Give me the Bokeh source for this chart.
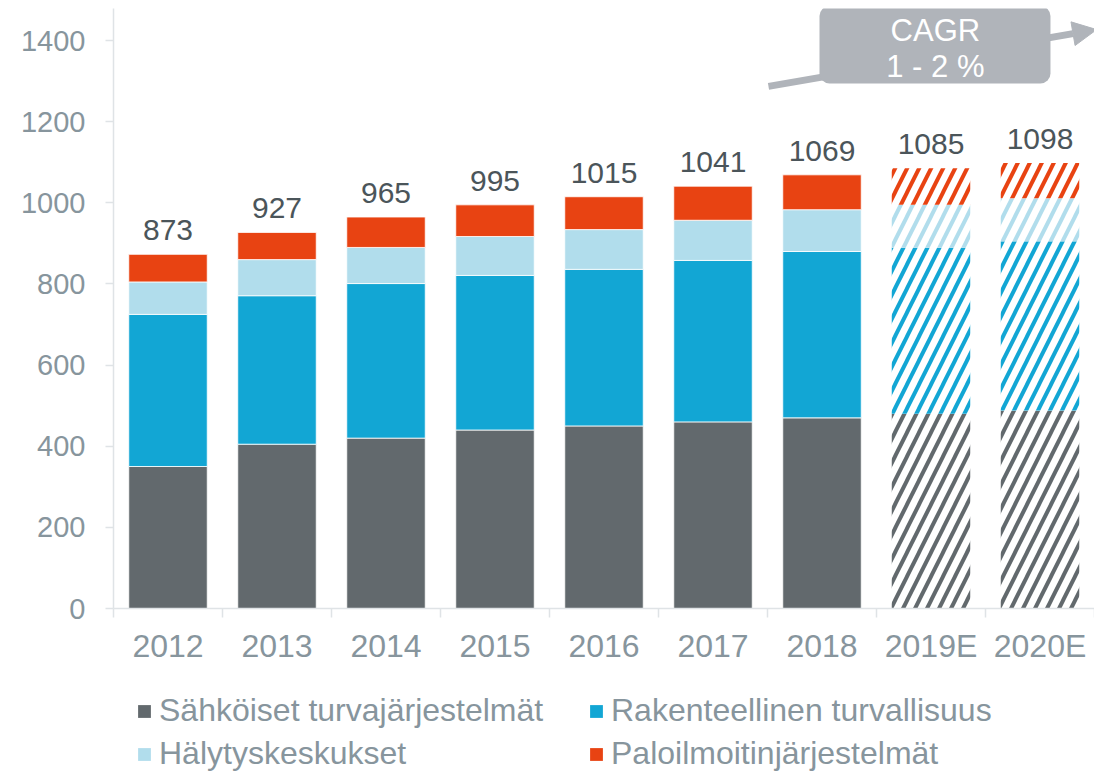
import numpy as np
from bokeh.plotting import figure
from bokeh.layouts import column
from bokeh.models import (ColumnDataSource, FixedTicker, Legend, LegendItem,
                          BoxAnnotation, Label, Arrow, NormalHead)
from bokeh.embed import file_html
from bokeh.resources import INLINE
from bokeh.core.properties import value

# ---------------- data ----------------
years = ["2012", "2013", "2014", "2015", "2016", "2017", "2018", "2019E", "2020E"]
forecast = [False, False, False, False, False, False, False, True, True]
sahkoiset = [350, 405, 420, 440, 450, 460, 470, 480, 488]
rakenteellinen = [375, 366, 381, 381, 386, 398, 410, 410, 417]
halytys = [80, 89, 89, 96, 98, 99, 103, 105, 106]
paloilmoitin = [68, 67, 75, 78, 81, 84, 86, 90, 87]
totals = [873, 927, 965, 995, 1015, 1041, 1069, 1085, 1098]
series_names = ["Sähköiset turvajärjestelmät", "Rakenteellinen turvallisuus",
                "Hälytyskeskukset", "Paloilmoitinjärjestelmät"]
series_colors = ["#62696d", "#12a6d4", "#b1ddec", "#e84312"]
y_ticks = [0, 200, 400, 600, 800, 1000, 1200, 1400]

FONT = "Liberation Sans"
AXIS_TEXT = "#87959d"

p = figure(width=1094, height=670, output_backend="svg", toolbar_location=None,
           x_range=(-0.5, 8.5), y_range=(0, 1479),
           min_border_left=113, min_border_right=0, min_border_top=8,
           min_border_bottom=62)
p.outline_line_color = None
p.grid.visible = False
p.background_fill_color = "white"
p.border_fill_color = "white"

x = np.arange(len(years))
series = [sahkoiset, rakenteellinen, halytys, paloilmoitin]
cum = np.cumsum(np.array(series), axis=0)
bottoms = np.vstack([np.zeros(len(years)), cum[:-1]])
fc = np.array(forecast)

for i, name in enumerate(series_names):
    act = ColumnDataSource(dict(x=x[~fc], bottom=bottoms[i][~fc], top=cum[i][~fc]))
    fut = ColumnDataSource(dict(x=x[fc], bottom=bottoms[i][fc], top=cum[i][fc]))
    p.vbar(x="x", bottom="bottom", top="top", width=0.72, source=act,
           fill_color=series_colors[i], line_color="white", line_width=0.8)
    p.vbar(x="x", bottom="bottom", top="top", width=0.72, source=fut,
           fill_color="white", line_color=None,
           hatch_pattern="/", hatch_color=series_colors[i],
           hatch_scale=24, hatch_weight=4)

# totals labels
lab_src = ColumnDataSource(dict(x=x, y=totals, t=[str(v) for v in totals]))
p.text(x="x", y="y", text="t", source=lab_src, text_align="center",
       text_baseline="bottom", y_offset=-14, text_color="#4b555a",
       text_font=value(FONT), text_font_size="30px")

# axes
xa = p.xaxis[0]
xa.ticker = FixedTicker(ticks=list(x), minor_ticks=list(np.arange(-0.5, 9, 1.0)))
xa.major_label_overrides = {int(i): y for i, y in enumerate(years)}
xa.major_tick_out = 0
xa.major_tick_in = 0
xa.minor_tick_out = 9
xa.minor_tick_in = 0
xa.minor_tick_line_color = "#dfe3e6"
xa.minor_tick_line_width = 1.5
xa.axis_line_color = "#dfe3e6"
xa.axis_line_width = 1.5
xa.major_label_text_font = FONT
xa.major_label_text_font_size = "32px"
xa.major_label_text_color = AXIS_TEXT
xa.major_label_standoff = 10

ya = p.yaxis[0]
ya.ticker = FixedTicker(ticks=y_ticks)
ya.major_tick_out = 8
ya.major_tick_in = 0
ya.minor_tick_out = 0
ya.minor_tick_in = 0
ya.major_tick_line_color = "#dfe3e6"
ya.major_tick_line_width = 1.5
ya.axis_line_color = "#dfe3e6"
ya.axis_line_width = 1.5
ya.major_label_text_font = FONT
ya.major_label_text_font_size = "29px"
ya.major_label_text_color = AXIS_TEXT
ya.major_label_standoff = 20

# CAGR annotation
GREY = "#b0b4ba"
p.add_layout(Arrow(end=NormalHead(size=24, fill_color=GREY, line_color=GREY),
                   x_start=5.509, y_start=1287, x_end=8.52, y_end=1427,
                   line_color=GREY, line_width=7))
p.add_layout(BoxAnnotation(left=5.977, right=8.096, bottom=1294, top=1485,
                           fill_color=GREY, fill_alpha=1.0, line_color=None,
                           border_radius=10))
p.add_layout(Label(x=7.04, y=1425, text="CAGR", text_align="center",
                   text_baseline="middle", text_color="white",
                   text_font=FONT, text_font_size="31px"))
p.add_layout(Label(x=7.04, y=1336, text="1 - 2 %", text_align="center",
                   text_baseline="middle", text_color="white",
                   text_font=FONT, text_font_size="31px"))

# legend in its own strip below the chart
leg = figure(width=1094, height=104, output_backend="svg", toolbar_location=None,
             x_range=(0, 1), y_range=(0, 1), min_border=0,
             x_axis_type=None, y_axis_type=None)
leg.grid.visible = False
leg.outline_line_color = None
items = {}
for i, name in enumerate(series_names):
    # off-range swatch renderer, only used for the legend glyph
    r = leg.vbar(x=[-5], top=[-5], bottom=[-6], width=0.5,
                 fill_color=series_colors[i], line_color=None)
    items[name] = LegendItem(label=name, renderers=[r])
# column-major fill: col 1 = series 0, 2 ; col 2 = series 1, 3
order = [series_names[0], series_names[2], series_names[1], series_names[3]]
legend = Legend(items=[items[n] for n in order], ncols=2, location=(23, 2),
                glyph_width=16, glyph_height=16, label_standoff=7,
                label_width=423, label_height=32, spacing=6, padding=0,
                margin=0, border_line_color=None, background_fill_alpha=0,
                label_text_font=FONT, label_text_font_size="32px",
                label_text_color=AXIS_TEXT)
leg.add_layout(legend, "center")

open("out.html", "w").write(file_html(column(p, leg, spacing=0), INLINE))
